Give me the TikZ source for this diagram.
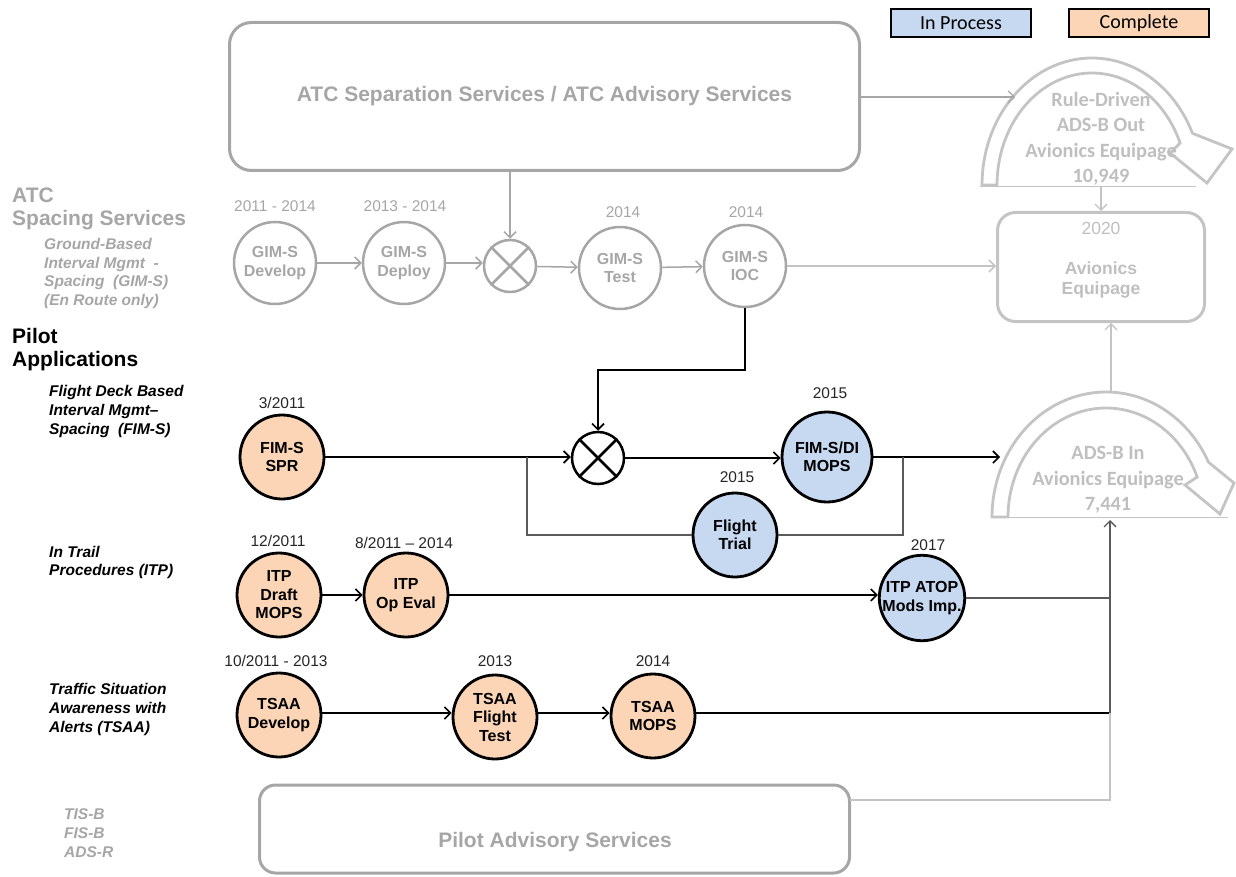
\documentclass[tikz,border=0pt]{standalone}
\usepackage{fontspec}
\setmainfont{Liberation Sans}
\newfontfamily\calib{Carlito}
\usetikzlibrary{arrows.meta}
\definecolor{gr}{HTML}{A6A6A6}
\definecolor{lgr}{HTML}{C4C4C4}
\definecolor{ltxt}{HTML}{BFBFBF}
\definecolor{peach}{HTML}{FBD5B5}
\definecolor{blu}{HTML}{C6D9F1}
\definecolor{dk}{HTML}{5A5A5A}
\begin{document}
\begin{tikzpicture}[x=1pt,y=-1pt,
  every node/.style={inner sep=0pt},
  gcirc/.style={circle,draw=gr,line width=2.5pt,minimum size=82pt,text=gr,font=\bfseries\fontsize{16}{18.5}\selectfont,align=center},
  ocirc/.style={circle,draw=black,line width=2.8pt,fill=peach,minimum size=84pt,font=\bfseries\fontsize{16}{18.5}\selectfont,align=center},
  bcirc/.style={ocirc,fill=blu},
  xcirc/.style={circle,line width=2.5pt,minimum size=52pt},
  gdate/.style={text=gr,font=\fontsize{15.5}{17}\selectfont},
  kdate/.style={text=black!85,font=\fontsize{15.5}{17}\selectfont},
  barb/.style={-{Straight Barb[length=6pt,width=12pt]}},
  gline/.style={draw=gr,line width=1.5pt},
  lline/.style={draw=lgr,line width=1.3pt},
  kline/.style={draw=black,line width=1.6pt},
  dline/.style={draw=dk,line width=1.3pt},
  lefthead/.style={anchor=west,align=left,font=\bfseries\fontsize{21}{22.5}\selectfont},
  leftsub/.style={anchor=west,align=left,font=\bfseries\itshape\fontsize{15.5}{18.7}\selectfont},
  legend/.style={draw=black,line width=2.8pt,minimum width=140pt,minimum height=28pt,font=\calib\fontsize{20}{22}\selectfont},
  bigtxt/.style={align=center,text=ltxt,font=\calib\bfseries\fontsize{20.3}{25.5}\selectfont}
]
\useasboundingbox (0,0) rectangle (1236,877);

% legend
\node[legend,fill=blu] (lip) at (961,23) {In Process};
\node[legend,fill=peach] (lco) at (1139,23) {Complete};

% ATC separation box
\node[draw=gr,line width=3pt,rounded corners=22pt,minimum width=630pt,minimum height=148pt,
  text=gr,font=\bfseries\fontsize{21}{24}\selectfont] (atc) at (544.5,96.5) {ATC Separation Services / ATC Advisory Services};

% curved arrow: Rule-Driven
\draw[draw=lgr,line width=2.8pt,line join=miter]
  plot[domain=180:24,samples=60] ({1092+110*cos(\x)},{185-127*sin(\x)})
  -- (1232,149) -- (1207,183) -- (1170,153)
  -- plot[domain=22:180,samples=60] ({1092+95*cos(\x)},{185-112*sin(\x)}) -- cycle;
\node[bigtxt] (rule) at (1101,139) {Rule-Driven\\ADS-B Out\\Avionics Equipage\\10,949};
\coordinate (rbL) at (980,187);
\coordinate (rbR) at (1196,187);
\draw[draw=lgr,line width=1pt] (rbL) -- (rbR);

% avionics equipage box
\node[draw=lgr,line width=3pt,rounded corners=18pt,minimum width=207pt,minimum height=109pt] (av) at (1101,267) {};
\node[text=ltxt,font=\fontsize{17.5}{19}\selectfont] (avy) at (1101,228) {2020};
\node[align=center,text=ltxt,font=\bfseries\fontsize{17.5}{20}\selectfont] (avt) at (1101,280) {Avionics\\Equipage};
\coordinate (rdown) at (1101,187);
\draw[lline,barb] (rdown) -- (av.north);

% curved arrow: ADS-B In
\draw[draw=lgr,line width=2.8pt,line join=miter]
  plot[domain=180:26,samples=60] ({1106+114*cos(\x)},{517-125*sin(\x)})
  -- (1234,483) -- (1220,514) -- (1185,485)
  -- plot[domain=21.5:180,samples=60] ({1106+98*cos(\x)},{517-109*sin(\x)}) -- cycle;
\node[bigtxt] (adsin) at (1108,480) {ADS-B In\\Avionics Equipage\\7,441};
\coordinate (ibL) at (992,517);
\coordinate (ibR) at (1228,517);
\draw[draw=lgr,line width=1pt] (ibL) -- (ibR);
\coordinate (intop) at (1111,392);
\draw[lline,barb] (intop) -- (intop |- av.south);

% left labels
\node[lefthead,text=gr] (hatc) at (12,209) {ATC\\Spacing Services};
\node[leftsub,text=gr] (hgim) at (44,273.5) {Ground-Based\\Interval Mgmt\ \ -\\Spacing\ \ (GIM-S)\\(En Route only)};
\node[lefthead] (hpilot) at (12,349.5) {Pilot\\Applications};
\node[leftsub] (hfim) at (49,411.5) {Flight Deck Based\\Interval Mgmt--\\Spacing\ \ (FIM-S)};
\node[leftsub] (hitp) at (49,562.5) {In Trail\\Procedures (ITP)};
\node[leftsub] (htsaa) at (49,709.5) {Traffic Situation\\Awareness with\\Alerts (TSAA)};
\node[leftsub,text=gr] (htis) at (64,833) {TIS-B\\FIS-B\\ADS-R};

% GIM-S row
\node[gcirc] (gdev) at (275,263) {GIM-S\\Develop};
\node[gcirc] (gdep) at (404,263) {GIM-S\\Deploy};
\node[xcirc,draw=gr] (gx) at (510,266) {};
\draw[gline,line width=2.5pt] (gx.north east) -- (gx.south west) (gx.north west) -- (gx.south east);
\node[gcirc] (gtest) at (620,268) {GIM-S\\Test};
\node[gcirc] (gioc) at (745,266) {GIM-S\\IOC};
\node[gdate] at (275,206) {2011 - 2014};
\node[gdate] at (405,206) {2013 - 2014};
\node[gdate] at (623,212) {2014};
\node[gdate] at (746,212) {2014};
\draw[gline,barb] (gdev) -- (gdep);
\draw[gline,barb] (gdep.east) -- (gdep.east -| gx.west);
\draw[gline,barb] (gx) -- (gtest);
\draw[gline,barb] (gtest) -- (gioc);
\draw[gline,barb] (atc.south -| gx.north) -- (gx.north);
\coordinate (atcR) at (1015,97);
\draw[gline,line width=1.2pt,barb] (atc.east |- atcR) -- (atcR);
\draw[lline,line width=1.5pt,barb] (gioc.east) -- (gioc.east -| av.west);

% FIM-S row
\node[ocirc] (spr) at (282,457) {FIM-S\\SPR};
\node[kdate] at (282,403) {3/2011};
\node[xcirc,draw=black] (fx) at (598,458) {};
\draw[kline,line width=2.5pt] (fx.north east) -- (fx.south west) (fx.north west) -- (fx.south east);
\node[bcirc,minimum size=90pt] (fim) at (827,457) {FIM-S/DI\\MOPS};
\node[kdate] at (830,393) {2015};
\node[bcirc] (ft) at (735,535) {Flight\\Trial};
\node[kdate] at (737,477) {2015};
\coordinate (iocT) at (745,370);
\draw[kline,barb] (gioc.south) -- (iocT) -| (fx.north);
\draw[kline,barb] (spr.east) -- (spr.east -| fx.west);
\coordinate (b1) at (527,457);
\draw[dline] (b1) |- (ft.west);
\draw[kline,barb] (fx.east) -- (fx.east -| fim.west);
\coordinate (inL) at (1000,457);
\draw[kline,barb] (fim.east) -- (inL);
\coordinate (j1) at (903,457);
\draw[dline] (ft.east) -| (j1);

% ITP row
\node[ocirc] (itpd) at (279,595) {ITP\\Draft\\MOPS};
\node[kdate] at (278,541) {12/2011};
\node[ocirc] (itpo) at (406,595) {ITP\\Op Eval};
\node[kdate] at (404,543) {8/2011 -- 2014};
\node[bcirc] (itpa) at (922,598) {ITP ATOP\\Mods Imp.};
\node[kdate] at (928,545) {2017};
\draw[kline,barb] (itpd) -- (itpo);
\draw[kline,barb] (itpo.east) -- (itpo.east -| itpa.west);
\coordinate (vI) at (1110,598);
\draw[dline] (itpa.east) -- (vI);

% TSAA row
\node[ocirc] (tsd) at (279,715) {TSAA\\Develop};
\node[kdate] at (276,661) {10/2011 - 2013};
\node[ocirc] (tsf) at (495,717) {TSAA\\Flight\\Test};
\node[kdate] at (495,661) {2013};
\node[ocirc] (tsm) at (653,716) {TSAA\\MOPS};
\node[kdate] at (653,661) {2014};
\coordinate (vT) at (1110,713);
\coordinate (vTop) at (1110,520);
\draw[kline,barb] (tsd.east |- vT) -- (tsf.west |- vT);
\draw[kline,barb] (tsf.east |- vT) -- (tsm.west |- vT);
\draw[kline] (tsm.east |- vT) -- (vT);
\draw[dline,barb] (vT) -- (vTop);

% Pilot advisory
\node[draw=gr,line width=3pt,rounded corners=16pt,minimum width=590pt,minimum height=88pt] (pas) at (554.5,829) {};
\node[text=gr,font=\bfseries\fontsize{21}{24}\selectfont] (past) at (555,842) {Pilot Advisory Services};
\coordinate (pa) at (850,800);
\coordinate (vP) at (1110,800);
\draw[lline] (pa) -- (vP) -- (vT);
\end{tikzpicture}
\end{document}
